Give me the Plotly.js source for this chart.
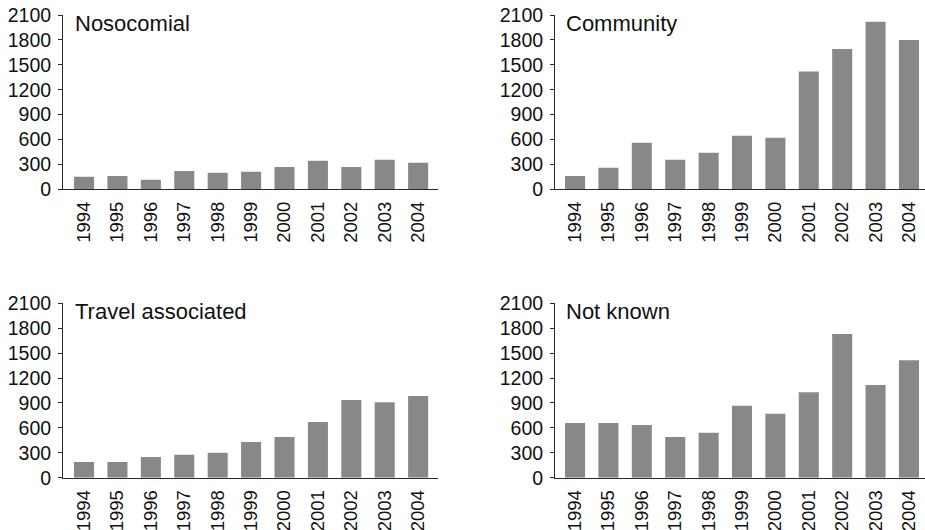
<!DOCTYPE html>
<html>
<head>
<meta charset="utf-8">
<script src="https://cdn.plot.ly/plotly-3.0.1.min.js"></script>
<style>
html,body{margin:0;padding:0;background:#fff;}
#chart{width:925px;height:530px;}
</style>
</head>
<body>
<div id="chart"></div>
<script>
const years = ["1994","1995","1996","1997","1998","1999","2000","2001","2002","2003","2004"];
const nosocomial = [150,160,115,220,200,210,270,345,270,355,320];
const community = [160,260,560,355,440,645,620,1420,1690,2020,1800];
const travelAssociated = [190,190,250,275,300,430,490,670,935,910,985];
const notKnown = [660,660,635,490,540,865,770,1030,1730,1115,1415];
const panelTitles = ["Nosocomial","Community","Travel associated","Not known"];
const yTicks = [0,300,600,900,1200,1500,1800,2100];

const series = [nosocomial, community, travelAssociated, notKnown];
const barColor = "#87888a";
const axisColor = "#2a2a2a";
const fontFam = "Liberation Sans, Arial, sans-serif";

const W = 925, H = 530;
const leftX = [63/W, 437.5/W];
const rightX = [555/W, 1.0];
const topY = [(H-189.3)/H, (H-15)/H];
const botY = [(H-477.7)/H, (H-303.3)/H];
const xRanges = [[-0.63, 10.58], [-0.6, 10.48]];

const traces = series.map((vals, i) => ({
  type: "bar",
  x: years,
  y: vals,
  xaxis: "x" + (i === 0 ? "" : (i+1)),
  yaxis: "y" + (i === 0 ? "" : (i+1)),
  marker: {color: barColor, line: {width: 0}},
  width: 0.6,
  hoverinfo: "x+y",
  showlegend: false
}));

const layout = {
  width: W, height: H,
  margin: {l:0, r:0, t:0, b:0, pad:0},
  paper_bgcolor: "#fff",
  plot_bgcolor: "#fff",
  font: {family: fontFam, color: "#111"},
  showlegend: false,
  annotations: []
};

const domainsX = [leftX, rightX, leftX, rightX];
const domainsY = [topY, topY, botY, botY];
const titleX = [73, 564, 73, 564];
const titleTop = [9, 9, 297, 297];

for (let i = 0; i < 4; i++) {
  const s = i === 0 ? "" : (i+1);
  const xr = (i % 2 === 0) ? xRanges[0] : xRanges[1];
  layout["xaxis" + s] = {
    domain: domainsX[i],
    anchor: "y" + s,
    type: "category",
    range: xr,
    showline: true,
    linecolor: axisColor,
    linewidth: 1,
    ticks: "",
    showgrid: false,
    zeroline: false,
    tickangle: -90,
    tickfont: {size: 18.5, family: fontFam, color: "#111"},
    ticklabelstandoff: 4,
    fixedrange: true
  };
  layout["yaxis" + s] = {
    domain: domainsY[i],
    anchor: "x" + s,
    range: [0, 2100],
    tickmode: "array",
    tickvals: yTicks,
    ticktext: yTicks.map(String),
    showline: true,
    linecolor: axisColor,
    linewidth: 1,
    ticks: "outside",
    ticklen: 4,
    tickcolor: axisColor,
    showgrid: false,
    zeroline: false,
    tickfont: {size: 19.5, family: fontFam, color: "#111"},
    ticklabelstandoff: 3,
    fixedrange: true
  };
  layout.annotations.push({
    text: panelTitles[i],
    xref: "paper", yref: "paper",
    x: titleX[i] / W, y: 1 - titleTop[i] / H,
    xanchor: "left", yanchor: "top",
    showarrow: false,
    font: {size: 22, family: fontFam, color: "#111"}
  });
}

Plotly.newPlot("chart", traces, layout, {displayModeBar: false, staticPlot: true});
</script>
</body>
</html>
